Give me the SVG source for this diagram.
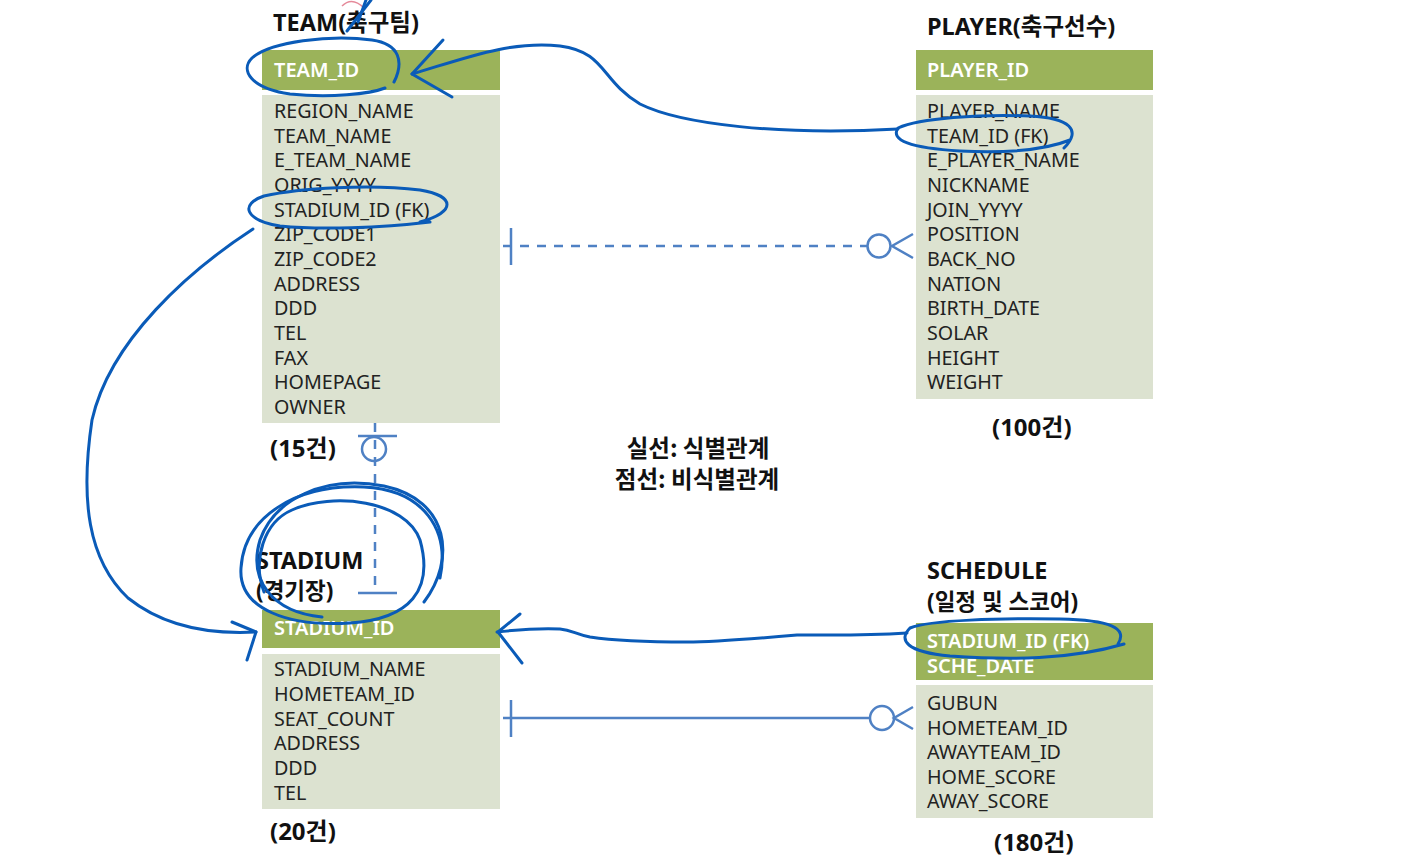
<svg xmlns="http://www.w3.org/2000/svg" width="1414" height="863" viewBox="0 0 1414 863">
<style>
.hdr{fill:#9BB35A}
.body{fill:#DCE2D0}
.title{font-family:"Noto Sans","Noto Sans CJK KR",sans-serif;font-weight:bold;font-size:23.5px;fill:#111}
.t2{font-size:22.5px}
.ht{font-family:"Noto Sans","Noto Sans CJK KR",sans-serif;font-weight:600;font-size:20px;fill:#fff}
.bt{font-family:"Noto Sans","Noto Sans CJK KR",sans-serif;font-size:19.7px;fill:#222}
.cnt{font-family:"Noto Sans","Noto Sans CJK KR",sans-serif;font-weight:bold;font-size:24px;fill:#111}
.leg{font-family:"Noto Sans CJK KR","Noto Sans",sans-serif;font-weight:bold;font-size:23.5px;fill:#111}
.rel{stroke:#4F81C4;stroke-width:2.5;fill:none}
.dash{stroke-dasharray:9 8}
.ink{stroke:#0A5BB8;stroke-width:3;fill:none;stroke-linecap:round;stroke-linejoin:round}
</style>
<rect width="1414" height="863" fill="#fff"/>

<g id="team">
<text class="title" x="273" y="31">TEAM(축구팀)</text>
<rect class="hdr" x="262" y="50" width="238" height="40"/>
<text class="ht" x="274" y="77">TEAM_ID</text>
<rect class="body" x="262" y="95" width="238" height="328"/>
<text class="bt" x="274" y="118">REGION_NAME</text>
<text class="bt" x="274" y="142.7">TEAM_NAME</text>
<text class="bt" x="274" y="167.3">E_TEAM_NAME</text>
<text class="bt" x="274" y="192">ORIG_YYYY</text>
<text class="bt" x="274" y="216.7">STADIUM_ID (FK)</text>
<text class="bt" x="274" y="241.3">ZIP_CODE1</text>
<text class="bt" x="274" y="266">ZIP_CODE2</text>
<text class="bt" x="274" y="290.7">ADDRESS</text>
<text class="bt" x="274" y="315.3">DDD</text>
<text class="bt" x="274" y="340">TEL</text>
<text class="bt" x="274" y="364.7">FAX</text>
<text class="bt" x="274" y="389.3">HOMEPAGE</text>
<text class="bt" x="274" y="414">OWNER</text>
<text class="cnt" x="270" y="457">(15건)</text>
</g>

<g id="player">
<text class="title" x="927" y="35">PLAYER(축구선수)</text>
<rect class="hdr" x="916" y="50" width="237" height="40"/>
<text class="ht" x="927" y="77">PLAYER_ID</text>
<rect class="body" x="916" y="95" width="237" height="304"/>
<text class="bt" x="927" y="118">PLAYER_NAME</text>
<text class="bt" x="927" y="142.7">TEAM_ID (FK)</text>
<text class="bt" x="927" y="167.3">E_PLAYER_NAME</text>
<text class="bt" x="927" y="192">NICKNAME</text>
<text class="bt" x="927" y="216.7">JOIN_YYYY</text>
<text class="bt" x="927" y="241.3">POSITION</text>
<text class="bt" x="927" y="266">BACK_NO</text>
<text class="bt" x="927" y="290.7">NATION</text>
<text class="bt" x="927" y="315.3">BIRTH_DATE</text>
<text class="bt" x="927" y="340">SOLAR</text>
<text class="bt" x="927" y="364.7">HEIGHT</text>
<text class="bt" x="927" y="389.3">WEIGHT</text>
<text class="cnt" x="992" y="436">(100건)</text>
</g>

<g id="stadium">
<text class="title" x="256" y="569">STADIUM</text>
<text class="title t2" x="256" y="599">(경기장)</text>
<rect class="hdr" x="262" y="610" width="238" height="38"/>
<text class="ht" x="274" y="635">STADIUM_ID</text>
<rect class="body" x="262" y="654" width="238" height="155"/>
<text class="bt" x="274" y="676">STADIUM_NAME</text>
<text class="bt" x="274" y="700.8">HOMETEAM_ID</text>
<text class="bt" x="274" y="725.6">SEAT_COUNT</text>
<text class="bt" x="274" y="750.4">ADDRESS</text>
<text class="bt" x="274" y="775.2">DDD</text>
<text class="bt" x="274" y="800">TEL</text>
<text class="cnt" x="270" y="840">(20건)</text>
</g>

<g id="schedule">
<text class="title" x="927" y="579">SCHEDULE</text>
<text class="title t2" x="927" y="610">(일정 및 스코어)</text>
<rect class="hdr" x="916" y="623" width="237" height="57"/>
<text class="ht" x="927" y="648">STADIUM_ID (FK)</text>
<text class="ht" x="927" y="673">SCHE_DATE</text>
<rect class="body" x="916" y="685" width="237" height="133"/>
<text class="bt" x="927" y="710">GUBUN</text>
<text class="bt" x="927" y="734.6">HOMETEAM_ID</text>
<text class="bt" x="927" y="759.2">AWAYTEAM_ID</text>
<text class="bt" x="927" y="783.8">HOME_SCORE</text>
<text class="bt" x="927" y="808.4">AWAY_SCORE</text>
<text class="cnt" x="994" y="851">(180건)</text>
</g>

<g id="legend">
<text class="leg" x="698" y="457" text-anchor="middle">실선: 식별관계</text>
<text class="leg" x="697" y="488" text-anchor="middle">점선: 비식별관계</text>
</g>

<g id="connectors">
<!-- TEAM - PLAYER (non-identifying, dashed) -->
<line class="rel dash" x1="503" y1="246" x2="867" y2="246"/>
<line class="rel" x1="511" y1="228" x2="511" y2="265"/>
<circle class="rel" cx="879" cy="246" r="11.5"/>
<path class="rel" d="M913 234 L892 246 L913 258"/>
<!-- TEAM - STADIUM (dashed vertical) -->
<line class="rel dash" x1="375" y1="423" x2="375" y2="593"/>
<line class="rel" x1="358" y1="436" x2="397" y2="436"/>
<circle class="rel" cx="374" cy="449" r="12"/>
<line class="rel" x1="358" y1="593" x2="397" y2="593"/>
<!-- STADIUM - SCHEDULE (identifying, solid) -->
<line class="rel" x1="503" y1="718" x2="869" y2="718"/>
<line class="rel" x1="511" y1="700" x2="511" y2="737"/>
<circle class="rel" cx="882" cy="718" r="12"/>
<path class="rel" d="M913 707 L894 718 L913 729"/>
</g>

<g id="handwriting">
<!-- top small strokes -->
<path d="M342 6 Q352 -4 364 8" stroke="#E58A9A" stroke-width="1.5" fill="none"/>
<path class="ink" d="M347 31 L371 0" stroke-width="2"/>
<path class="ink" d="M358 22 L366 0" stroke-width="2"/>
<!-- circle around TEAM_ID -->
<path class="ink" d="M394 82 C404 62 400 44 372 40 C330 34 270 42 252 58 C240 70 250 88 290 94 C330 98 370 94 385 88"/>
<!-- arrow PLAYER.TEAM_ID -> TEAM.TEAM_ID -->
<path class="ink" d="M898 129 C780 136 680 124 640 104 C600 80 606 52 560 46 C510 40 460 60 412 74"/>
<path class="ink" d="M443 40 L412 74 L452 97"/>
<!-- circle around PLAYER TEAM_ID (FK) -->
<path class="ink" d="M1064 148 C1082 130 1070 118 1030 116 C980 114 920 118 898 128 C890 140 910 148 960 151 C1000 153 1040 152 1070 140"/>
<!-- circle around TEAM STADIUM_ID (FK) -->
<path class="ink" d="M420 222 C456 212 456 196 420 190 C370 184 300 188 264 196 C240 204 244 220 280 226 C320 230 380 228 430 222"/>
<!-- long curve to STADIUM_ID -->
<path class="ink" d="M253 229 C190 270 110 340 92 420 C80 500 88 560 128 598 C168 630 220 634 256 632"/>
<path class="ink" d="M232 622 L256 632 L247 660"/>
<!-- loops around STADIUM -->
<path class="ink" d="M440 578 C450 530 424 490 364 487 C294 484 244 518 241 568 C238 610 290 627 350 623 C410 619 434 590 420 540 C406 500 332 492 292 510 C264 522 252 560 264 592"/>
<path class="ink" d="M424 602 C456 560 450 500 384 486 C324 474 274 500 260 540 C248 580 272 612 322 617"/>
<!-- arrow SCHEDULE.STADIUM_ID -> STADIUM.STADIUM_ID -->
<path class="ink" d="M907 633 C860 636 830 635 797 635 C740 640 700 642 687 642 C640 642 610 640 590 637 C575 634 572 630 560 629 C540 628 515 630 497 632"/>
<path class="ink" d="M520 614 L498 632 L522 663"/>
<!-- circle around SCHEDULE STADIUM_ID (FK) -->
<path class="ink" d="M1118 644 C1128 628 1110 620 1060 619 C1000 618 930 620 910 628 C898 640 906 652 950 656 C1010 660 1070 660 1124 644"/>
</g>
</svg>
